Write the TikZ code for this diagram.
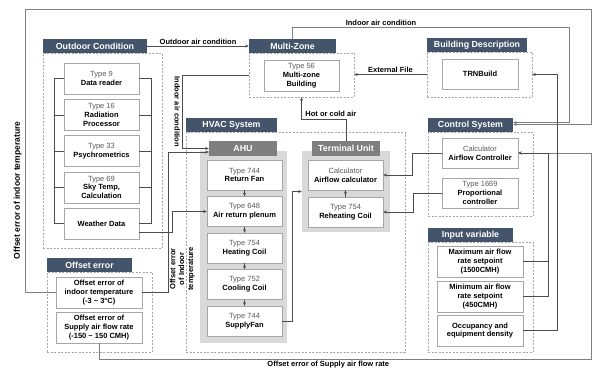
\documentclass[tikz,border=0pt]{standalone}
\usepackage{fontspec}
\setmainfont{Liberation Sans}
\usetikzlibrary{arrows.meta}
\definecolor{hdrblue}{HTML}{44546A}
\definecolor{unitgray}{HTML}{7F7F7F}
\definecolor{panelgray}{HTML}{D9D9D9}
\definecolor{typegray}{HTML}{595959}

\begin{document}
\begin{tikzpicture}[x=1pt, y=-1pt, >={Stealth[length=3.5pt,width=3pt]},
      font=\fontsize{7.5}{8.8}\selectfont,
      hdr/.style={fill=hdrblue, text=white, font=\fontsize{8.8}{10}\selectfont\bfseries, minimum height=14pt, inner sep=0pt},
      unit/.style={fill=unitgray, text=white, font=\fontsize{8.8}{10}\selectfont\bfseries, minimum width=68pt, minimum height=15pt, inner sep=0pt},
      grp/.style={draw=black!35, dash pattern=on 2pt off 1.5pt, inner sep=0pt},
      panel/.style={fill=panelgray, inner sep=0pt},
      box/.style={draw=black!35, fill=white, align=center, inner sep=1pt, minimum width=75pt, minimum height=31pt},
      boxb/.style={box, font=\fontsize{7.5}{8.8}\selectfont\bfseries},
      wire/.style={draw=black!70, line width=0.6pt},
      outer/.style={draw=black!50, line width=0.6pt},
      lab/.style={font=\fontsize{7.5}{8.8}\selectfont\bfseries, inner sep=1.5pt, align=center}]
      \useasboundingbox (0,0) rectangle (593,372);
      % dashed groups
      \node[grp, minimum width=119pt, minimum height=195pt] (outG) at (102.5,150.5) {};
      \node[grp, minimum width=105pt, minimum height=44pt] (mzG) at (301.5,75) {};
      \node[grp, minimum width=105pt, minimum height=45pt] (bdG) at (479.5,74.5) {};
      \node[grp, minimum width=219pt, minimum height=220pt] (hvacG) at (295.5,242) {};
      \node[grp, minimum width=105pt, minimum height=84pt] (ctrlG) at (480.5,174) {};
      \node[grp, minimum width=105pt, minimum height=110pt] (inG) at (480.5,297) {};
      \node[grp, minimum width=105pt, minimum height=80pt] (offG) at (99.5,312) {};
      % headers
      \node[hdr, minimum width=104pt] (outH) at (95,46) {Outdoor Condition};
      \node[hdr, minimum width=87pt] (mzH) at (292.5,46) {Multi-Zone};
      \node[hdr, minimum width=100pt] (bdH) at (477,45) {Building Description};
      \node[hdr, minimum width=91pt] (hvacH) at (231.5,125) {HVAC System};
      \node[hdr, minimum width=85pt] (ctrlH) at (470.5,125) {Control System};
      \node[hdr, minimum width=85pt] (inH) at (470.5,235) {Input variable};
      \node[hdr, minimum width=85pt] (offH) at (89.5,265) {Offset error};
      % AHU and terminal unit
      \node[panel, minimum width=87pt, minimum height=192pt] (ahuP) at (243.5,247) {};
      \node[panel, minimum width=88pt, minimum height=81pt] (tuP) at (346,191.5) {};
      \node[unit] (ahuH) at (243,148.5) {AHU};
      \node[unit] (tuH) at (346,148.5) {Terminal Unit};
      % outdoor condition
      \node[box] (dr) at (101.5,78.5) {{\color{typegray}Type 9}\\\textbf{Data reader}};
      \node[box] (rp) at (101.5,114.8) {{\color{typegray}Type 16}\\\textbf{Radiation}\\\textbf{Processor}};
      \node[box] (ps) at (101.5,151.1) {{\color{typegray}Type 33}\\\textbf{Psychrometrics}};
      \node[box] (sk) at (101.5,187.4) {{\color{typegray}Type 69}\\\textbf{Sky Temp,}\\\textbf{Calculation}};
      \node[boxb] (wd) at (101.5,223.7) {Weather Data};
      % multi-zone and building
      \node[box] (mzB) at (301.5,75.5) {{\color{typegray}Type 56}\\\textbf{Multi-zone}\\\textbf{Building}};
      \node[boxb, minimum width=76pt, minimum height=30pt] (trn) at (480,74) {TRNBuild};
      % AHU
      \node[box, minimum height=30pt] (rf) at (244.5,175) {{\color{typegray}Type 744}\\\textbf{Return Fan}};
      \node[box, minimum height=30pt] (arp) at (244.5,211.5) {{\color{typegray}Type 648}\\\textbf{Air return plenum}};
      \node[box, minimum height=30pt] (hc) at (244.5,248) {{\color{typegray}Type 754}\\\textbf{Heating Coil}};
      \node[box, minimum height=30pt] (cc) at (244.5,284.5) {{\color{typegray}Type 752}\\\textbf{Cooling Coil}};
      \node[box, minimum height=30pt] (sf) at (244.5,321) {{\color{typegray}Type 744}\\\textbf{SupplyFan}};
      % terminal unit
      \node[box, minimum height=30pt] (afc) at (345.5,175) {{\color{typegray}Calculator}\\\textbf{Airflow calculator}};
      \node[box, minimum height=30pt] (rh) at (345.5,212) {{\color{typegray}Type 754}\\\textbf{Reheating Coil}};
      % control system
      \node[box, minimum width=76pt, minimum height=30pt] (afctl) at (480,153) {{\color{typegray}Calculator}\\\textbf{Airflow Controller}};
      \node[box, minimum width=76pt, minimum height=30pt] (prop) at (480,193) {{\color{typegray}Type 1669}\\\textbf{Proportional}\\\textbf{controller}};
      % input variable
      \node[boxb, minimum width=86pt] (maxB) at (480,261.5) {Maximum air flow\\rate setpoint\\(1500CMH)};
      \node[boxb, minimum width=86pt] (minB) at (480,296.5) {Minimum air flow\\rate setpoint\\(450CMH)};
      \node[boxb, minimum width=86pt] (occB) at (480,330.5) {Occupancy and\\equipment density};
      % offset error
      \node[boxb, minimum width=86pt] (offB1) at (99,292.5) {Offset error of\\indoor temperature\\(-3 \textasciitilde{} 3°C)};
      \node[boxb, minimum width=86pt] (offB2) at (99,327.5) {Offset error of\\Supply air flow rate\\(-150 \textasciitilde{} 150 CMH)};

      % connectors
      \draw[wire] (dr.west) -- ++(-10,0) |- (wd.west);
      \draw[wire] (dr.east) -- ++(12,0) |- (wd.east);
      \foreach \b in {rp,ps,sk} {
        \draw[wire] (\b.west) -- ++(-10,0);
        \draw[wire] (\b.east) -- ++(12,0);
      }
      \draw[wire,->] (outH.east) -- (mzH.west) node[lab, midway, above] {Outdoor air condition};
      \draw[outer,->] (mzH.north) |- (569,27) node[lab, above, pos=0.66] {Indoor air condition} |- ([yshift=2.5pt]ctrlH.east);
      \draw[outer,->] (offB1.west) -| (25,9) node[lab, sloped, above, pos=0.68, inner sep=3pt, font=\fontsize{8.5}{10}\selectfont\bfseries] {Offset error of indoor temperature} -| (591,124.5) -- ([yshift=0.5pt]ctrlH.east);
      \draw[outer,->] (offB2.south) |- (591,359) node[lab, below, pos=0.733] {Offset error of Supply air flow rate} |- (afctl.east);
      \draw[wire,->] (bdG.west) -- (bdG.west -| mzG.east) node[lab, midway, above] {External File};
      \draw[wire,->] (mzG.west) -- ++(-67,0) |- (ahuH.west) node[lab, sloped, below, pos=0.25] {Indoor air condition};
      \draw[wire,->] (offB1.east) -- ++(26,0) |- ([yshift=-3.5pt]ahuH.west) node[lab, sloped, below, pos=0.084] {Offset error\\of Indoor\\temperature};
      \draw[wire,->] ([yshift=-9pt]wd.east) -- ++(33,0) |- (arp.west);
      \draw[wire,->] (rf) -- (arp);
      \draw[wire,->] (arp) -- (hc);
      \draw[wire,->] (hc) -- (cc);
      \draw[wire,->] (cc) -- (sf);
      \draw[wire,->] (rh) -- (afc);
      \draw[wire,->] (sf.east) -- ++(10,0) |- (tuP.west);
      \draw[wire,->] (tuH.north) -- ++(0,-22) -| (mzG.south) node[lab, above, pos=0.17] {Hot or cold air};
      \draw[wire,->] (afctl.west) -- ++(-30,0) |- (afc.east);
      \draw[wire,->] (prop.west) -- ++(-29,0) |- (rh.east);
      \draw[wire] (maxB.east) -- ++(25,0);
      \draw[wire,->] (minB.east) -- ++(25,0) |- (afctl.east);
      \draw[wire,->] (occB.east) -- ++(34,0) |- (bdG.east);
    \end{tikzpicture}
\end{document}
